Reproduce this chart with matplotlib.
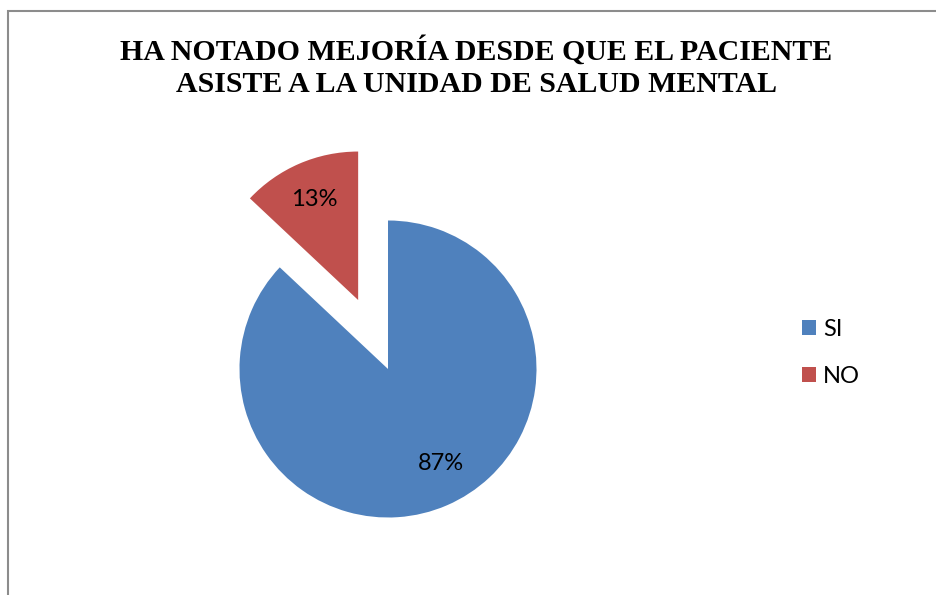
import matplotlib
matplotlib.use("Agg")
import numpy as np
import matplotlib.pyplot as plt
from matplotlib.patches import Rectangle

# Data
categories = ["SI", "NO"]
values = [87, 13]
colors = ["#4F81BD", "#C0504D"]
title = "HA NOTADO MEJORÍA DESDE QUE EL PACIENTE\nASISTE A LA UNIDAD DE SALUD MENTAL"

W, H = 937, 595
fig = plt.figure(figsize=(W / 100, H / 100), dpi=100)
fig.patch.set_facecolor("white")

# chart frame (partially outside image)
fig.patches.append(Rectangle((8.5 / W, -0.05), 1.2, 1 - 11 / H + 0.05,
                             transform=fig.transFigure, fill=False,
                             edgecolor="#8c8c8c", linewidth=1.5))

# pie axes centred at (388, 369) px, radius 148.5 px
cx, cy, R, half = 388, 369, 148.5, 300
ax = fig.add_axes([(cx - half) / W, (H - cy - half) / H, 2 * half / W, 2 * half / H])
wedges, texts, autotexts = ax.pie(
    values, colors=colors, startangle=90, counterclock=False,
    explode=[0, 0.506], autopct="%1.0f%%", pctdistance=0.74,
    wedgeprops=dict(linewidth=0),
    textprops=dict(family="Lato", fontsize=17, color="black"))

# nudge the large slice's label a little like the original layout
w0 = wedges[0]
mid = np.deg2rad((w0.theta1 + w0.theta2) / 2 + 6)
autotexts[0].set_position((0.73 * np.cos(mid), 0.73 * np.sin(mid)))

lim = half / R
ax.set_xlim(-lim, lim)
ax.set_ylim(-lim, lim)
ax.set_aspect("equal")
ax.axis("off")

fig.text(476.5 / W, 1 - 67 / H, title, ha="center", va="center",
         family="Liberation Serif", fontweight="bold", fontsize=21.5,
         linespacing=1.27)

fig.legend(wedges, categories, loc="center left",
           bbox_to_anchor=(802 / W, 1 - 353 / H), frameon=False,
           prop=dict(family="Lato", size=17), borderpad=0, borderaxespad=0,
           handlelength=0.6, handleheight=0.6, handletextpad=0.3,
           labelspacing=1.1)

fig.savefig("out.png", dpi=100, facecolor="white")
